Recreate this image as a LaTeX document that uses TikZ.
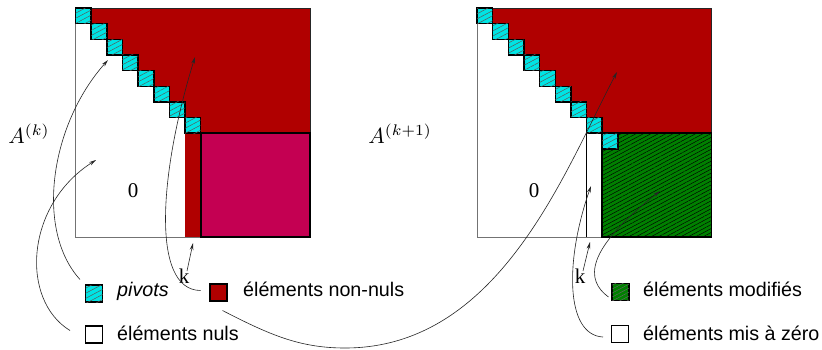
\documentclass[tikz,border=0pt]{standalone}
\usepackage{fontspec}
\newfontfamily\lsans{Liberation Sans}
\newfontfamily\lserif{Liberation Serif}
\usetikzlibrary{patterns.meta,arrows.meta}
\definecolor{matred}{RGB}{176,0,0}
\definecolor{matmag}{RGB}{196,0,82}
\definecolor{pivcyan}{RGB}{0,228,228}
\definecolor{modgreen}{RGB}{0,128,0}
\tikzset{
  pivot/.style={draw=black, line width=1.5pt, fill=pivcyan,
    postaction={pattern={Lines[angle=28,distance=4.5pt,line width=0.5pt]}, pattern color=black!65}},
  magbox/.style={draw=black, line width=1.6pt, fill=matmag},
  greenbox/.style={draw=black, line width=1.6pt, fill=modgreen,
    postaction={pattern={Lines[angle=28,distance=3.5pt,line width=0.45pt]}, pattern color=black}},
  frame/.style={draw=black!55, line width=0.8pt},
  legbox/.style={minimum size=17pt, inner sep=0pt, line width=1.6pt, draw=black},
  legpiv/.style={legbox, fill=pivcyan,
    postaction={pattern={Lines[angle=28,distance=4.5pt,line width=0.5pt]}, pattern color=black!65}},
  legred/.style={legbox, fill=matred},
  leggreen/.style={legbox, fill=modgreen,
    postaction={pattern={Lines[angle=28,distance=3.5pt,line width=0.45pt]}, pattern color=black!60}},
  legwhite/.style={legbox, fill=white},
  legtext/.style={anchor=base west, inner sep=0pt, font=\lsans\fontsize{19.7}{23}\selectfont},
  serlbl/.style={anchor=base, inner sep=0pt, font=\lserif\fontsize{21}{25}\selectfont},
  mathlbl/.style={anchor=base west, inner sep=0pt, scale=2.2},
  conn/.style={draw=black!85, line width=0.6pt, -{Stealth[length=7pt,width=3.6pt]}},
}
\begin{document}
\begin{tikzpicture}[x=1pt,y=-1pt]
\useasboundingbox[fill=white] (0,0) rectangle (822,349);
\def\s{15.65}
% ---------- left matrix A^(k)
\begin{scope}[shift={(75.5,8)}]
  \draw[frame] (0,0) rectangle (234.5,229);
  \fill[matred] (0,0) -- (234.5,0) -- (234.5,125.2) -- (125.2,125.2) -- cycle;
  \draw[black!85, line width=0.7pt] (0,0) -- (234.5,0) -- (234.5,125.2);
  \fill[matred] (109.55,125.2) rectangle (125.2,229);
  \draw[magbox] (125.2,125.2) rectangle (234.5,229);
  \foreach \i in {0,...,7} \draw[pivot] (\i*\s,\i*\s) rectangle ++(\s,\s);
\end{scope}
% ---------- right matrix A^(k+1)
\begin{scope}[shift={(477,8)}]
  \draw[frame] (0,0) rectangle (234.5,229);
  \fill[matred] (0,0) -- (234.5,0) -- (234.5,125.2) -- (125.2,125.2) -- cycle;
  \draw[black!85, line width=0.7pt] (0,0) -- (234.5,0) -- (234.5,125.2);
  \draw[black, line width=0.6pt] (109.55,125.2) -- (109.55,229);
  \draw[greenbox] (125.2,125.2) rectangle (234.5,229);
  \foreach \i in {0,...,8} \draw[pivot] (\i*\s,\i*\s) rectangle ++(\s,\s);
\end{scope}
% ---------- labels
\node[mathlbl] (Ak) at (8,143) {$A^{(k)}$};
\node[mathlbl] (Ak1) at (368,143) {$A^{(k+1)}$};
\node[serlbl] (zl) at (133,197) {0};
\node[serlbl] (zr) at (534,197) {0};
\node[serlbl] (kl) at (184,283) {k};
\node[serlbl] (kr) at (580,283) {k};
% ---------- legend
\node[legpiv] (lpiv) at (94,293.5) {};
\node[legtext] (tpiv) at (117,296) {\itshape pivots};
\node[legwhite] (lnul) at (94,334.5) {};
\node[legtext] (tnul) at (117,340) {éléments nuls};
\node[legred] (lnon) at (218.5,292.5) {};
\node[legtext] (tnon) at (243,296) {éléments non-nuls};
\node[leggreen] (rmod) at (620.5,292) {};
\node[legtext] (tmod) at (643,296) {éléments modifiés};
\node[legwhite] (rzer) at (620,334) {};
\node[legtext] (tzer) at (643,340) {éléments mis à zéro};
% ---------- arrow targets
\coordinate (tpivA) at (108,60);
\coordinate (tnulA) at (96,160);
\coordinate (tnonA) at (195,57);
\coordinate (tkl) at (193,243);
\coordinate (tnonB) at (617,72);
\coordinate (tzer) at (591,186);
\coordinate (tkr) at (590,242);
\coordinate (tmod) at (660,191);
% ---------- connectors
\draw[conn] ([shift={(-14,-14)}]lpiv.center) .. controls (35,230) and (50,125) .. (tpivA);
\draw[conn] ([shift={(-24,-4)}]lnul.center) .. controls (20,300) and (25,205) .. (tnulA);
\draw[conn] ([shift={(-18,-2)}]lnon.center) .. controls (150,290) and (160,170) .. (tnonA);
\draw[conn] ([shift={(3,-12)}]kl.base) -- (tkl);
\draw[conn] ([shift={(4,18)}]lnon.center) .. controls (270,335) and (300,348) .. (345,348)
   .. controls (500,348) and (565,170) .. (tnonB);
\draw[conn] ([shift={(-17,3)}]rzer.center) .. controls (565,335) and (565,260) .. (tzer);
\draw[conn] ([shift={(3,-12)}]kr.base) -- (tkr);
\draw[conn] ([shift={(-12,5)}]rmod.center) .. controls (585,280) and (585,250) .. (tmod);
\end{tikzpicture}
\end{document}
